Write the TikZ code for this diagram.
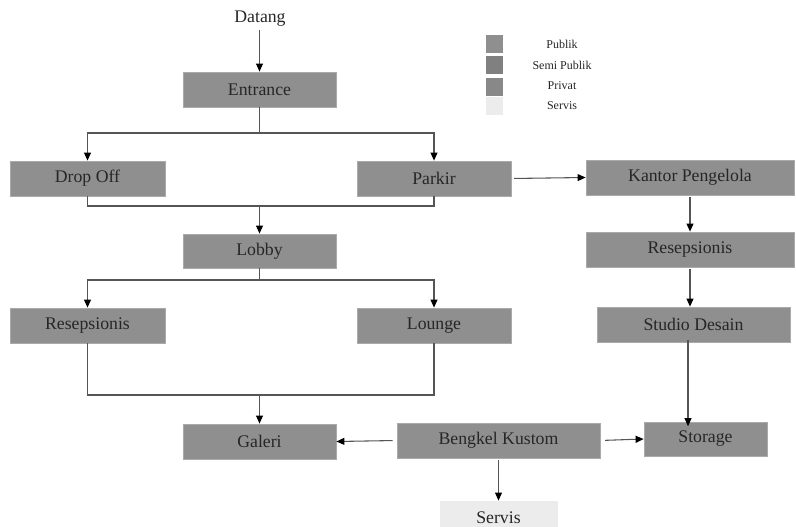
\documentclass[tikz,border=0pt]{standalone}
\usepackage{fontspec}
\setmainfont{Liberation Serif}
\newfontfamily\tnr{Liberation Serif}
\usetikzlibrary{arrows.meta}
\definecolor{boxgray}{RGB}{143,143,143}
\definecolor{boxedge}{RGB}{170,170,170}
\definecolor{semigray}{RGB}{128,128,128}
\definecolor{servgray}{RGB}{236,236,236}
\definecolor{linegray}{RGB}{85,85,85}
\tikzset{
  box/.style={draw=boxedge, line width=0.6pt, fill=boxgray, inner sep=0pt,
    font=\tnr\fontsize{13.3}{15}\selectfont, text=black!85},
  conn/.style={draw=linegray, line width=0.8pt},
  arr/.style={draw=linegray, line width=0.8pt, -{Triangle[length=6pt,width=5.2pt,color=black,fill=black]}},
  legbox/.style={draw=none, inner sep=0pt, minimum width=12.75pt, minimum height=13.5pt},
  legtext/.style={font=\tnr\fontsize{9}{10}\selectfont, text=black!85},
}
\begin{document}
\begin{tikzpicture}[x=0.75pt,y=-0.75pt]
\useasboundingbox (0,0) rectangle (796,527);

% nodes
\node[font=\tnr\fontsize{13.3}{15}\selectfont, text=black!85] (datang) at (260,19) {Datang};
\node[box, minimum width=114.75pt, minimum height=26.25pt] (entrance) at (259.5,89.5) {Entrance};
\node[box, minimum width=116.25pt, minimum height=26.25pt] (dropoff) at (87.5,178.5) {Drop Off};
\node[box, minimum width=115.5pt, minimum height=26.25pt] (parkir) at (434,178.5) {Parkir};
\node[box, minimum width=156pt, minimum height=26.25pt] (kantor) at (690,177.5) {Kantor Pengelola};
\node[box, minimum width=156pt, minimum height=26.25pt] (resR) at (690,249.5) {Resepsionis};
\node[box, minimum width=144.75pt, minimum height=26.25pt] (studio) at (693.5,324.5) {Studio Desain};
\node[box, minimum width=114.75pt, minimum height=25.5pt] (lobby) at (259.5,251) {Lobby};
\node[box, minimum width=116.25pt, minimum height=26.25pt] (resL) at (87.5,325.5) {Resepsionis};
\node[box, minimum width=115.5pt, minimum height=26.25pt] (lounge) at (434,325.5) {Lounge};
\node[box, minimum width=114.75pt, minimum height=26.25pt] (galeri) at (259.5,441.5) {Galeri};
\node[box, minimum width=152.25pt, minimum height=26.25pt] (bengkel) at (498.5,440.5) {Bengkel Kustom};
\node[box, minimum width=92.25pt, minimum height=25.5pt] (storage) at (705.5,439) {Storage};
\node[box, fill=servgray, draw=servgray, minimum width=87.75pt, minimum height=25.5pt] (servis) at (498.5,518) {Servis};

% legend
\node[legbox, fill=boxgray] (lg1) at (494.5,44) {};
\node[legbox, fill=semigray] (lg2) at (494.5,65.5) {};
\node[legbox, fill=boxgray!95!black] (lg3) at (494.5,87) {};
\node[legbox, fill=servgray] (lg4) at (494.5,106.5) {};
\node[legtext] (lt1) at (562,44) {Publik};
\node[legtext] (lt2) at (562,65) {Semi Publik};
\node[legtext] (lt3) at (562,86) {Privat};
\node[legtext] (lt4) at (562,106) {Servis};

% junction coordinates
\coordinate (j1) at (259.5,133);
\coordinate (j2) at (259.5,206);
\coordinate (j3) at (259.5,280);
\coordinate (j4) at (259.5,395);
\coordinate (d0) at (259.5,30);
\coordinate (s0) at (688,337.6);
\coordinate (s1) at (688,426.2);

% connectors
\draw[arr] (d0) -- (entrance.north);
\draw[conn] (entrance.south) -- (j1);
\draw[arr] (j1) -| (dropoff.north);
\draw[arr] (j1) -| (parkir.north);
\draw[conn] (dropoff.south) |- (j2) -| (parkir.south);
\draw[arr] (j2) -- (lobby.north);
\draw[conn] (lobby.south) -- (j3);
\draw[arr] (j3) -| (resL.north);
\draw[arr] (j3) -| (lounge.north);
\draw[conn] (resL.south) |- (j4) -| (lounge.south);
\draw[arr] (j4) -- (galeri.north);
\draw[arr, shorten <=2pt] (parkir.east) -- (kantor.west);
\draw[arr, shorten <=1.5pt] (kantor.south) -- (resR.north);
\draw[arr, shorten <=1.5pt] (resR.south) -- (resR.south |- studio.north);
\draw[arr, shorten <=1.5pt] (s0) -- (s1);
\draw[arr, shorten <=3pt] (bengkel.west) -- (galeri.east);
\draw[arr, shorten <=3.5pt] (bengkel.east) -- (storage.west);
\draw[arr, shorten <=1.5pt] (bengkel.south) -- (servis.north);
\end{tikzpicture}
\end{document}
